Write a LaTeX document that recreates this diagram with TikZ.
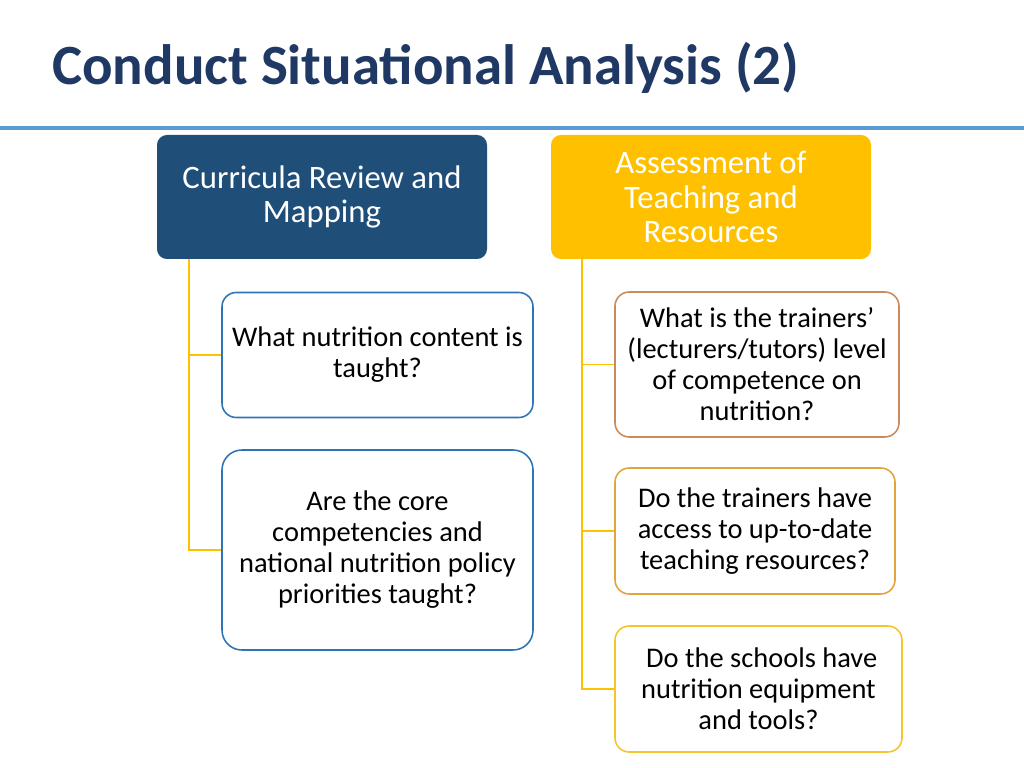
\documentclass[tikz,border=0pt]{standalone}
\usepackage{fontspec}
\setmainfont{Carlito}
\usetikzlibrary{calc}
\definecolor{titleblue}{HTML}{1F3864}
\definecolor{rulebl}{HTML}{5B9BD5}
\definecolor{hdrblue}{HTML}{1F4E79}
\definecolor{hdrgold}{HTML}{FFC000}
\definecolor{lborder}{HTML}{2E75B6}
\definecolor{rborderA}{HTML}{C98B5C}
\definecolor{rborderB}{HTML}{E2A43C}
\definecolor{rborderC}{HTML}{F7C42A}
\definecolor{conn}{HTML}{FFC000}
\tikzset{
  hdrbox/.style={rectangle, rounded corners=7pt, inner sep=0pt, align=center,
    text=white, font=\fontsize{23}{24.5}\selectfont},
  qbox/.style={rectangle, rounded corners=10pt, inner sep=0pt, align=center, fill=white,
    line width=1.1pt, text=black, font=\fontsize{20}{21.8}\selectfont},
  connline/.style={draw=conn, line width=1.1pt},
}
\begin{document}
\begin{tikzpicture}[x=0.703125pt,y=-0.703125pt]
\useasboundingbox (0,0) rectangle (1024,768);
\fill[white] (0,0) rectangle (1024,768);
% title
\node[anchor=base west, inner sep=0pt, text=titleblue, font=\fontsize{40}{48}\selectfont\bfseries] (title) at (52,85) {Conduct Situational Analysis (2)};
% rule
\coordinate (ruleL) at (0,128);
\coordinate (ruleR) at (1024,128);
\draw[rulebl, line width=3.5pt] (ruleL) -- (ruleR);
% headers
\node[hdrbox, fill=hdrblue, minimum width=330*0.703125pt, minimum height=124*0.703125pt] (H1) at (322,197) {Curricula Review and\\Mapping};
\node[hdrbox, fill=hdrgold, minimum width=320*0.703125pt, minimum height=124*0.703125pt] (H2) at (711,197) {Assessment of\\Teaching and\\Resources};
% left questions
\node[qbox, draw=lborder, minimum width=311*0.703125pt, minimum height=125*0.703125pt] (L1) at (377.5,355) {What nutrition content is\\taught?};
\node[qbox, draw=lborder, rounded corners=14pt, minimum width=311*0.703125pt, minimum height=200*0.703125pt] (L2) at (377.5,550) {Are the core\\competencies and\\national nutrition policy\\priorities taught?};
% right questions
\node[qbox, draw=rborderA, minimum width=284*0.703125pt, minimum height=145*0.703125pt] (R1) at (757,364.5) {What is the trainers’\\(lecturers/tutors) level\\of competence on\\nutrition?};
\node[qbox, draw=rborderB, minimum width=280*0.703125pt, minimum height=126*0.703125pt] (R2) at (755,531) {Do the trainers have\\access to up-to-date\\teaching resources?};
\node[qbox, draw=rborderC, minimum width=287*0.703125pt, minimum height=126*0.703125pt] (R3) at (758.5,689) {\ Do the schools have\\nutrition equipment\\and tools?};
% connectors
\coordinate (tL) at (189,259);
\coordinate (tR) at (582,259);
\draw[connline] (tL) |- (L1.west);
\draw[connline] (tL) |- (L2.west);
\draw[connline] (tR) |- (R1.west);
\draw[connline] (tR) |- (R2.west);
\draw[connline] (tR) |- (R3.west);
\end{tikzpicture}
\end{document}
